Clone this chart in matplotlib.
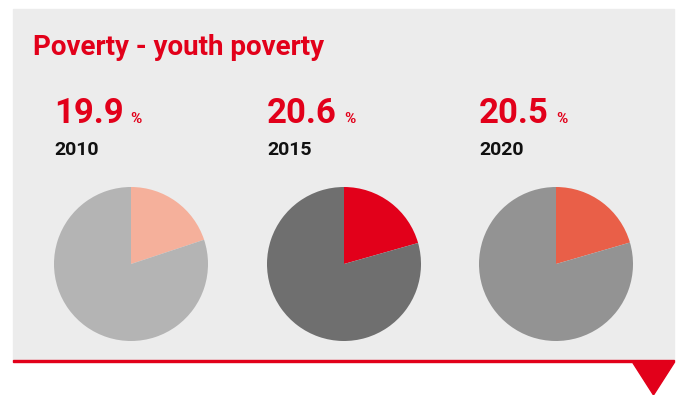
import matplotlib.pyplot as plt
from matplotlib.patches import Rectangle, Polygon

years = ['2010', '2015', '2020']
shares = [19.9, 20.6, 20.5]
slice_colors = ['#f5b09b', '#e2001a', '#e95f48']
rest_colors = ['#b4b4b4', '#6f6f6f', '#939393']

W, H = 682, 395
red = '#e2001a'
plt.rcParams['font.family'] = ['Roboto', 'DejaVu Sans']

fig = plt.figure(figsize=(W / 100, H / 100), dpi=100)
fig.patch.set_facecolor('white')

# grey panel, red rule and the little triangle
fig.patches.append(Rectangle((13 / W, 1 - 360 / H), 661 / W, 351 / H,
                             transform=fig.transFigure, color='#ececec', zorder=-5))
fig.patches.append(Rectangle((13 / W, 1 - 362 / H), 661 / W, 2.5 / H,
                             transform=fig.transFigure, color=red, zorder=-4))
fig.patches.append(Polygon([(633 / W, 1 - 363 / H), (674 / W, 1 - 363 / H),
                            (653.5 / W, 1 - 395 / H)], closed=True,
                           transform=fig.transFigure, color=red, zorder=-4))

fig.text(33 / W, 1 - 55 / H, 'Poverty - youth poverty', color=red,
         fontsize=20, fontweight='bold', va='baseline')

centers = [131, 344, 556]
r = 77
for cx, yr, val, c1, c2 in zip(centers, years, shares, slice_colors, rest_colors):
    left = cx - 77
    t = fig.text(left / W, 1 - 123 / H, f'{val:.1f}', color=red,
                 fontsize=25, fontweight='bold', va='baseline')
    fig.canvas.draw()
    bb = t.get_window_extent()
    fig.text((bb.x1 + 7) / W, 1 - 123 / H, '%', color=red,
             fontsize=11, fontweight='bold', va='baseline')
    fig.text(left / W, 1 - 155 / H, yr, color='#111111',
             fontsize=14, fontweight='bold', va='baseline')

    ax = fig.add_axes([(cx - r) / W, 1 - (264 + r) / H, 2 * r / W, 2 * r / H])
    ax.set_zorder(2)
    ax.pie([val, 100 - val], colors=[c1, c2], startangle=90,
           counterclock=False, radius=1)
    ax.set_xlim(-1, 1)
    ax.set_ylim(-1, 1)
    ax.set_aspect('equal')
    ax.axis('off')

fig.savefig('out.png', dpi=100, facecolor='white')
